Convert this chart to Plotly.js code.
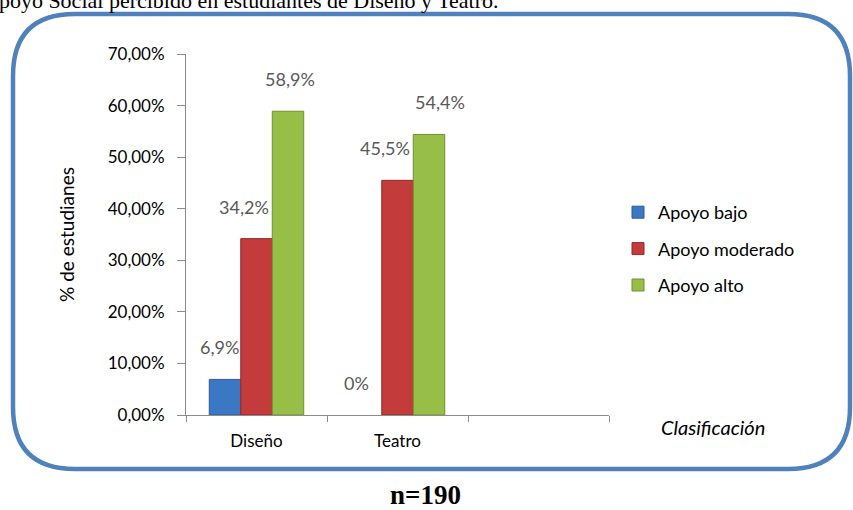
<!DOCTYPE html>
<html><head><meta charset="utf-8">
<script src="https://cdn.plot.ly/plotly-3.0.1.min.js"></script>
<style>html,body{margin:0;padding:0;background:#fff;}#c{width:853px;height:510px;}</style>
</head><body><div id="c"></div>
<script>
const categories = ['Diseño', 'Teatro', ' '];
const seriesNames = ['Apoyo bajo', 'Apoyo moderado', 'Apoyo alto'];
const apoyoBajo = [6.9, 0, null];
const apoyoModerado = [34.2, 45.5, null];
const apoyoAlto = [58.9, 54.4, null];
const labelsBajo = ['6,9%', '0%', ''];
const labelsModerado = ['34,2%', '45,5%', ''];
const labelsAlto = ['58,9%', '54,4%', ''];
const yTicks = [0, 10, 20, 30, 40, 50, 60, 70];
const yTickText = ['0,00%', '10,00%', '20,00%', '30,00%', '40,00%', '50,00%', '60,00%', '70,00%'];

const colors = ['#3b78c4', '#c33b3b', '#97bf47'];
const lineColors = ['#2c5d99', '#8f2a2a', '#6f8f30'];
const values = [apoyoBajo, apoyoModerado, apoyoAlto];
const labels = [labelsBajo, labelsModerado, labelsAlto];

const W = 853, H = 510;
const M = {l: 186, r: 244, t: 54, b: 95};
const PW = W - M.l - M.r, PH = H - M.t - M.b;
const px = x => (x - M.l) / PW;
const py = y => (H - M.b - y) / PH;

const traces = values.map((v, i) => ({
  type: 'bar', name: seriesNames[i], x: categories, y: v,
  marker: {color: colors[i], line: {color: lineColors[i], width: v.map(val => (val ? 1 : 0))}},
  legendgroup: 'g' + i, hoverinfo: 'skip'
}));

const xOff = [-31, 0, 31];
const labelShift = [[-6, -10, 0], [-13, -13, 0], [2, 11, 0]];
const annotations = [];
values.forEach((v, i) => {
  v.forEach((val, j) => {
    if (val === null) return;
    annotations.push({
      x: categories[j], y: val, xref: 'x', yref: 'y', text: labels[i][j],
      showarrow: false, xshift: xOff[i] + labelShift[i][j], yshift: 32,
      xanchor: 'center', yanchor: 'middle',
      font: {family: 'Lato, sans-serif', size: 18, color: '#595959'}
    });
  });
});
annotations.push({
  xref: 'paper', yref: 'paper', x: px(713), y: py(427), xanchor: 'center', yanchor: 'middle',
  text: '<i>Clasificación</i>',
  showarrow: false, font: {family: 'Lato, sans-serif', size: 20, color: '#000'}
});
annotations.push({
  xref: 'paper', yref: 'paper', x: px(425), y: py(495), xanchor: 'center', yanchor: 'middle',
  text: '<b>n=190</b>',
  showarrow: false, font: {family: 'Liberation Serif, serif', size: 27, color: '#000'}
});
annotations.push({
  xref: 'paper', yref: 'paper', x: px(-19), y: py(0), xanchor: 'left', yanchor: 'middle',
  text: 'Apoyo Social percibido en estudiantes de Diseño y Teatro.',
  showarrow: false, font: {family: 'Liberation Serif, serif', size: 22, color: '#000'}
});

// rounded border
const x0 = 13, x1 = 850, y0 = 14, y1 = 469, r = 62;
const path = [
  `M ${px(x0 + r)},${py(y0)}`,
  `L ${px(x1 - r)},${py(y0)}`,
  `Q ${px(x1)},${py(y0)} ${px(x1)},${py(y0 + r)}`,
  `L ${px(x1)},${py(y1 - r)}`,
  `Q ${px(x1)},${py(y1)} ${px(x1 - r)},${py(y1)}`,
  `L ${px(x0 + r)},${py(y1)}`,
  `Q ${px(x0)},${py(y1)} ${px(x0)},${py(y1 - r)}`,
  `L ${px(x0)},${py(y0 + r)}`,
  `Q ${px(x0)},${py(y0)} ${px(x0 + r)},${py(y0)} Z`
].join(' ');

const layout = {
  width: W, height: H, margin: M,
  paper_bgcolor: '#fff', plot_bgcolor: '#fff',
  separators: ',.',
  showlegend: true,
  barmode: 'group', bargap: 0.33, bargroupgap: 0,
  font: {family: 'Lato, sans-serif', size: 17, color: '#000'},
  xaxis: {
    type: 'category', categoryorder: 'array', categoryarray: categories,
    range: [-0.5, 2.5], tickson: 'boundaries', ticks: 'outside', ticklen: 6,
    tickcolor: '#8c8c8c', showline: true, linecolor: '#8c8c8c', linewidth: 1,
    showgrid: false, zeroline: false, tickfont: {size: 17, color: '#000'},
    ticklabelstandoff: 11
  },
  yaxis: {
    range: [0, 70], tickvals: yTicks, ticktext: yTickText,
    ticks: 'outside', ticklen: 8, tickcolor: '#8c8c8c', showline: true,
    linecolor: '#8c8c8c', linewidth: 1, showgrid: false, zeroline: false,
    tickfont: {size: 17, color: '#000'}, ticklabelstandoff: 9,
    title: {text: '% de estudianes', font: {size: 19, color: '#000'}, standoff: 28}
  },
  legend: {
    x: px(618), y: py(194), xanchor: 'left', yanchor: 'top',
    font: {size: 18, color: '#000'}, tracegroupgap: 10, traceorder: 'grouped',
    bgcolor: 'rgba(0,0,0,0)', itemwidth: 30
  },
  annotations: annotations,
  shapes: [{type: 'path', xref: 'paper', yref: 'paper', path: path,
    line: {color: '#4f81bd', width: 4.5}, fillcolor: 'rgba(0,0,0,0)', layer: 'below'}]
};

Plotly.newPlot('c', traces, layout, {displayModeBar: false, staticPlot: true});
</script></body></html>
